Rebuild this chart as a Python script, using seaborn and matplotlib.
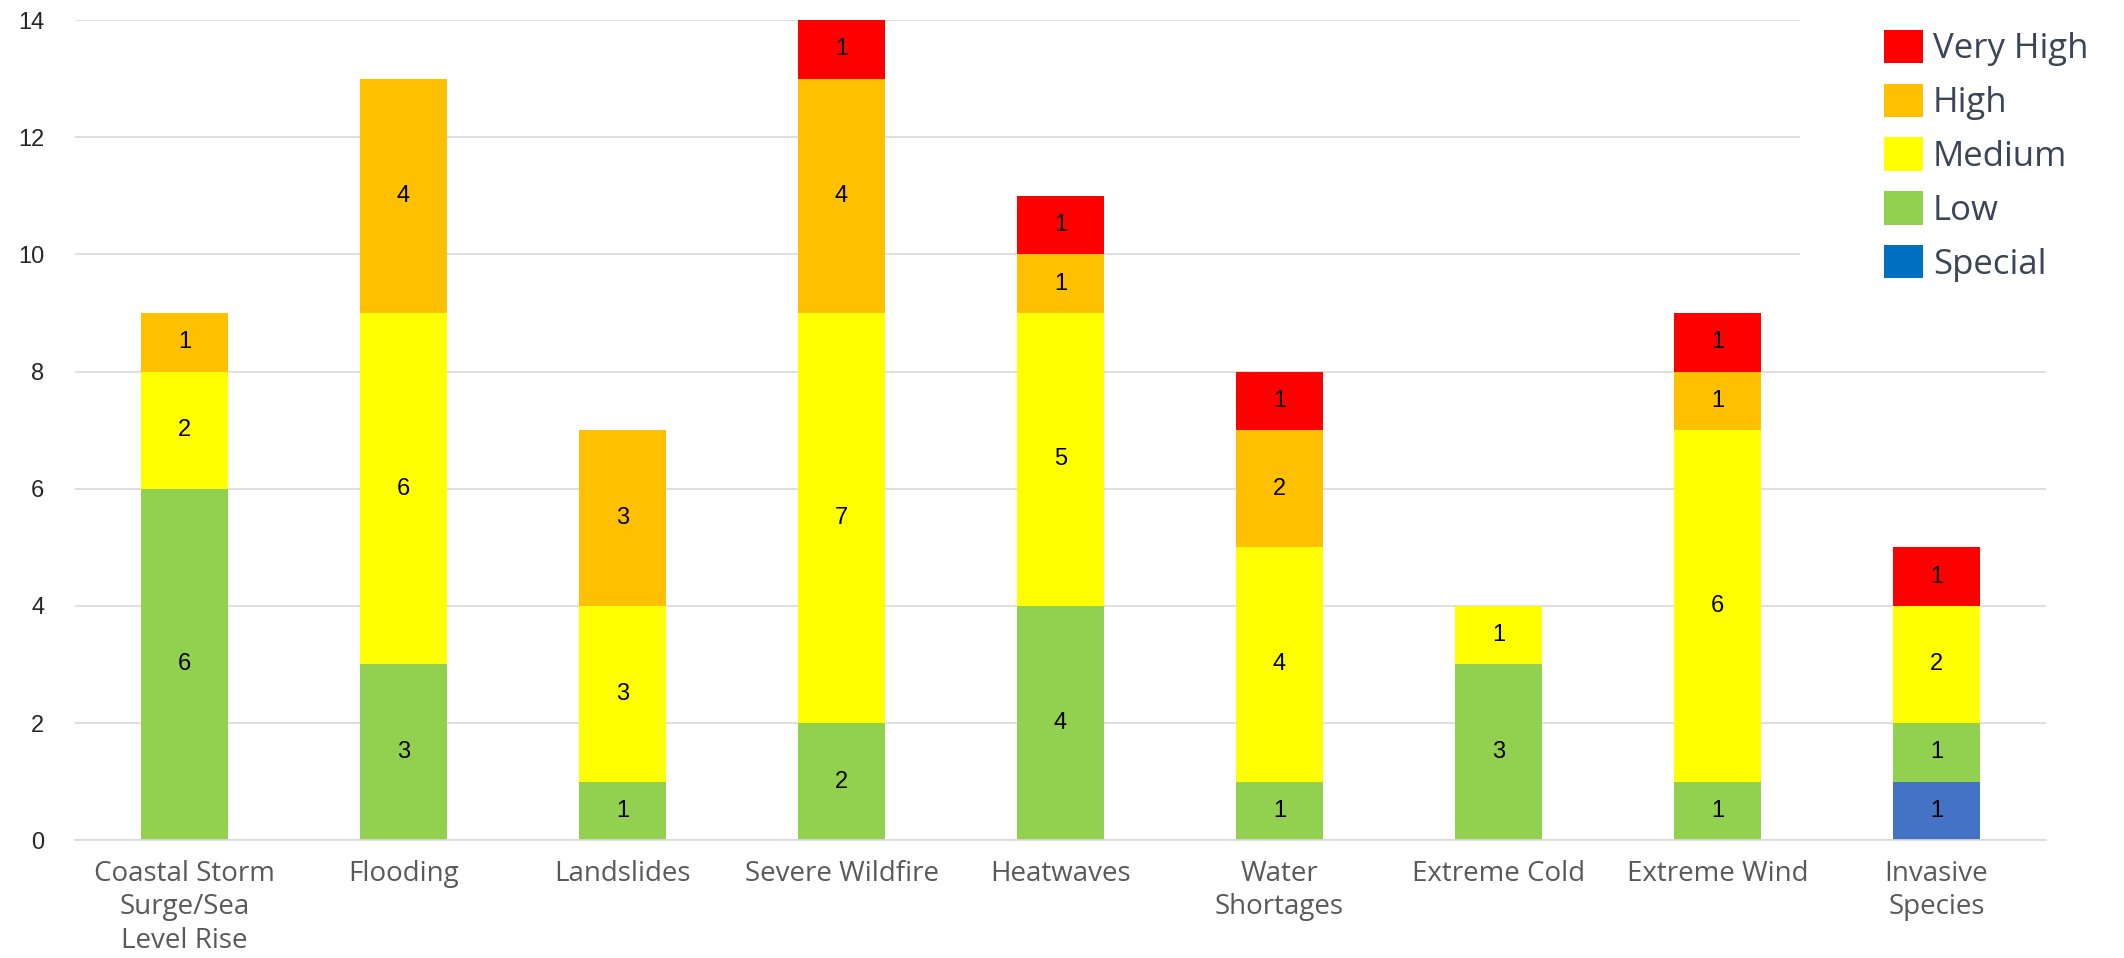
import numpy as np
import pandas as pd
import matplotlib
matplotlib.use("Agg")
import matplotlib.pyplot as plt
import seaborn as sns
from matplotlib.patches import Patch, Rectangle

categories = ["Coastal Storm\nSurge/Sea\nLevel Rise", "Flooding", "Landslides", "Severe Wildfire",
              "Heatwaves", "Water\nShortages", "Extreme Cold", "Extreme Wind", "Invasive\nSpecies"]
special   = [0, 0, 0, 0, 0, 0, 0, 0, 1]
low       = [6, 3, 1, 2, 4, 1, 3, 1, 1]
medium    = [2, 6, 3, 7, 5, 4, 1, 6, 2]
high      = [1, 4, 3, 4, 1, 2, 0, 1, 0]
very_high = [0, 0, 0, 1, 1, 1, 0, 1, 1]

series_names = ["Special", "Low", "Medium", "High", "Very High"]
series_vals = [special, low, medium, high, very_high]
bar_colors = ["#4472C4", "#92D050", "#FFFF00", "#FFC000", "#FF0000"]
legend_colors = {"Very High": "#FF0000", "High": "#FFC000", "Medium": "#FFFF00",
                 "Low": "#92D050", "Special": "#0070C0"}

sns.set_theme(style="white")
plt.rcParams['font.family'] = ['Open Sans', 'DejaVu Sans']

fig = plt.figure(figsize=(21.24, 9.58), dpi=100)
ax = fig.add_axes([0.0353, 0.123, 0.928, 0.856])

bottom = np.zeros(len(categories))
for name, vals, col in zip(series_names, series_vals, bar_colors):
    df = pd.DataFrame({"cat": categories, "val": vals})
    sns.barplot(data=df, x="cat", y="val", order=categories, color=col, width=0.4,
                bottom=bottom, ax=ax, saturation=1, linewidth=0, errorbar=None)
    bottom = bottom + np.array(vals)

for cont, vals in zip(ax.containers, series_vals):
    labels = [str(v) if v > 0 else "" for v in vals]
    ax.bar_label(cont, labels=labels, label_type="center", fontsize=17,
                 color="black", family="Liberation Sans")

ax.set_ylim(0, 14)
ax.set_xlim(-0.5, len(categories) - 0.5)
ax.set_yticks(range(0, 15, 2))
ax.yaxis.grid(True, color="#D9D9D9", linewidth=1.2)
ax.set_axisbelow(True)
for s in ["top", "right", "left"]:
    ax.spines[s].set_visible(False)
ax.spines["bottom"].set_color("#D9D9D9")
ax.spines["bottom"].set_linewidth(1.2)
ax.set_xlabel("")
ax.set_ylabel("")
ax.tick_params(axis="x", length=0, pad=14, labelsize=20, labelcolor="#595959")
ax.tick_params(axis="y", length=0, pad=22, labelsize=17, labelcolor="#262626")
for t in ax.get_yticklabels():
    t.set_family("Liberation Sans")
for t in ax.get_xticklabels():
    t.set_linespacing(1.27)

# white legend area covering the gridlines behind it
ax.add_patch(Rectangle((0.875, 0.63), 0.2, 0.4, transform=ax.transAxes,
                       facecolor="white", edgecolor="none", zorder=0.8, clip_on=False))

order = ["Very High", "High", "Medium", "Low", "Special"]
handles = [Patch(facecolor=legend_colors[n], edgecolor="none", label=n) for n in order]
leg = fig.legend(handles=handles, loc="upper left", bbox_to_anchor=(0.879, 0.987),
                 frameon=False, fontsize=25, handlelength=1.1, handleheight=1.1,
                 handletextpad=0.3, labelspacing=0.5, borderpad=0)
for t in leg.get_texts():
    t.set_color("#3A4556")

fig.savefig("out.png", dpi=100, facecolor="white")
